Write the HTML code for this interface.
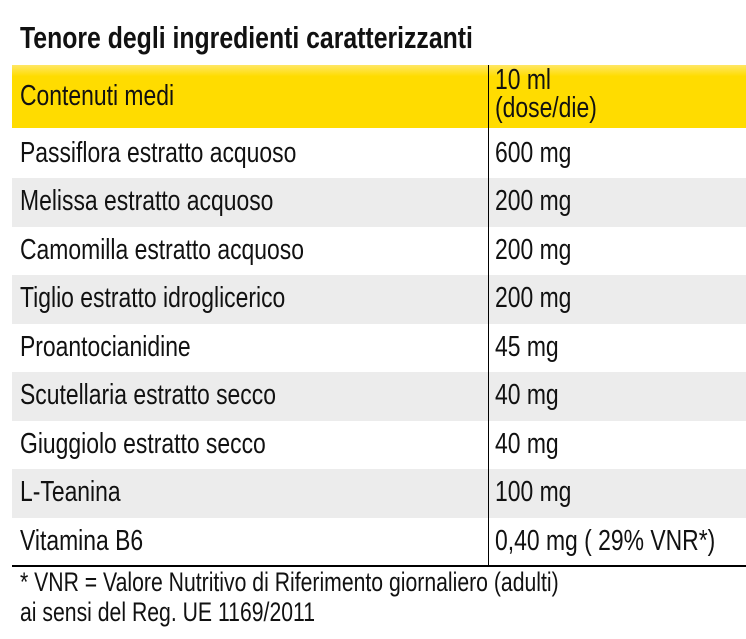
<!DOCTYPE html>
<html><head><meta charset="utf-8"><style>
body{margin:0;width:746px;height:639px;background:#fff;font-family:"Liberation Sans",sans-serif;color:#111;position:relative;overflow:hidden}
.t{position:absolute;white-space:nowrap;transform-origin:0 0}
.s{transform:scaleX(0.79)}
#title{left:20px;top:20px;font-size:31px;font-weight:bold;transform:scaleX(0.8)}
#head{position:absolute;left:12px;top:65px;width:734px;height:63px;background:linear-gradient(#ffe766 0%,#ffdc00 18%,#ffdc00 100%)}
.row{position:absolute;left:12px;width:734px;height:48.5px}
.g{background:#ececec}
#vline{position:absolute;left:488px;top:65px;width:1px;height:501px;background:#000}
#hline{position:absolute;left:12px;top:565px;width:734px;height:1.5px;background:#000}
.c{font-size:29px}
.f{font-size:26.5px;transform:scaleX(0.8)}
</style></head><body>
<div class="t" id="title">Tenore degli ingredienti caratterizzanti</div>
<div id="head"></div>
<div class="t c s" style="left:20px;top:80px">Contenuti medi</div>
<div class="t c s" style="left:495px;top:66px;line-height:28px">10 ml<br>(dose/die)</div>
<div id="rows"></div>
<div id="vline"></div>
<div id="hline"></div>
<div class="t f" style="left:20px;top:567px">* VNR = Valore Nutritivo di Riferimento giornaliero (adulti)</div>
<div class="t f" style="left:20px;top:597px">ai sensi del Reg. UE 1169/2011</div>
<script>
const ingredients=["Passiflora estratto acquoso","Melissa estratto acquoso","Camomilla estratto acquoso","Tiglio estratto idroglicerico","Proantocianidine","Scutellaria estratto secco","Giuggiolo estratto secco","L-Teanina","Vitamina B6"];
const amounts=["600 mg","200 mg","200 mg","200 mg","45 mg","40 mg","40 mg","100 mg","0,40 mg ( 29% VNR*)"];
const root=document.getElementById('rows');
ingredients.forEach((name,i)=>{
  const top=129.5+i*48.5;
  const r=document.createElement('div');
  r.className='row'+(i%2?' g':'');
  r.style.top=top+'px';
  
  
  root.appendChild(r);
  const a=document.createElement('div');
  a.className='t c s';a.style.left='20px';a.style.top=(top+7)+'px';a.textContent=name;
  
  
  root.appendChild(a);
  const b=document.createElement('div');
  b.className='t c s';b.style.left='495px';b.style.top=(top+7)+'px';b.textContent=amounts[i];
  
  
  root.appendChild(b);
});
</script>
</body></html>
